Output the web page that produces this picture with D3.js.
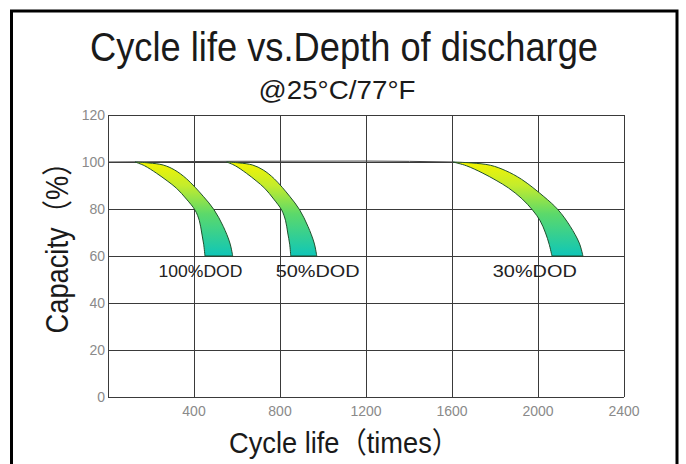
<!DOCTYPE html>
<html>
<head>
<meta charset="utf-8">
<script src="https://cdn.jsdelivr.net/npm/d3@7"></script>
<style>
  body { margin: 0; background: #fff; }
  svg { display: block; }
</style>
</head>
<body>
<div id="chart"></div>
<script>
// Axis ticks
var xTicks = [400, 800, 1200, 1600, 2000, 2400];
var yTicks = [0, 20, 40, 60, 80, 100, 120];

// Depth of discharge bands: [cycles, capacity %]
var dodNames = ["100%DOD", "50%DOD", "30%DOD"];
var dodLabelAt = [430, 975, 1985];

var inner100 = [[126,100],[170,98.4],[226,95.2],[275,92],[319,88.8],[365,84.2],[405,79.5],[425,75],[436,69.8],[445,65],[451,60]];
var outer100 = [[126,100],[190,99.6],[257,98.7],[310,96.6],[366,92.8],[443,85.4],[493,79.7],[536,72.6],[567,65.5],[580,60]];

var inner50 = [[552,100],[592,98.4],[644,95.2],[689,92],[729,88.8],[771,84.2],[808,79.5],[826,75],[836,69.8],[845,65],[850,60]];
var outer50 = [[552,100],[611,99.6],[673,98.7],[722,96.6],[774,92.8],[845,85.4],[891,79.7],[930,72.6],[959,65.5],[971,60]];

var inner30 = [[1605,100],[1667,98.4],[1740,95.4],[1805,92.2],[1862,89],[1925,84.4],[1975,79.5],[2010,75],[2035,69.8],[2052,65],[2065,60]];
var outer30 = [[1605,100],[1690,99.6],[1779,98.6],[1850,96.3],[1924,92.6],[2027,85.3],[2093,79.7],[2150,72.6],[2192,65.5],[2209,60]];

// thin reference line along 100%
var topLine = [[0,100],[600,100.3],[1200,100.4],[1605,100]];

var bands = [
    { inner: inner100, outer: outer100 },
    { inner: inner50, outer: outer50 },
    { inner: inner30, outer: outer30 }
];

var W = 686, H = 464;

var svg = d3.select("#chart").append("svg")
    .attr("width", W)
    .attr("height", H);

// outer frame
svg.append("rect")
    .attr("x", 11.5).attr("y", 11)
    .attr("width", 665.5).attr("height", 470)
    .attr("fill", "none")
    .attr("stroke", "#000")
    .attr("stroke-width", 3);

var x = d3.scaleLinear().domain([0, 2400]).range([108, 624]);
var y = d3.scaleLinear().domain([0, 120]).range([397, 115]);

// gradient for the bands
var defs = svg.append("defs");
var grad = defs.append("linearGradient")
    .attr("id", "bandGrad")
    .attr("gradientUnits", "userSpaceOnUse")
    .attr("x1", 0).attr("x2", 0)
    .attr("y1", y(100)).attr("y2", y(60));
grad.append("stop").attr("offset", "0%").attr("stop-color", "#f4f400");
grad.append("stop").attr("offset", "25%").attr("stop-color", "#c4ec2c");
grad.append("stop").attr("offset", "55%").attr("stop-color", "#5cd96a");
grad.append("stop").attr("offset", "100%").attr("stop-color", "#0fc6b8");

// grid
var grid = svg.append("g");
grid.selectAll(".vgrid")
    .data(xTicks)
    .enter().append("line")
    .attr("x1", function(d) { return Math.round(x(d)) + 0.5; })
    .attr("x2", function(d) { return Math.round(x(d)) + 0.5; })
    .attr("y1", y(0)).attr("y2", y(120))
    .attr("stroke", "#3a3a3a").attr("stroke-width", 1);

grid.selectAll(".hgrid")
    .data(yTicks)
    .enter().append("line")
    .attr("x1", x(0)).attr("x2", x(2400))
    .attr("y1", function(d) { return Math.round(y(d)) + 0.5; })
    .attr("y2", function(d) { return Math.round(y(d)) + 0.5; })
    .attr("stroke", "#3a3a3a").attr("stroke-width", 1);

grid.append("line")
    .attr("x1", Math.round(x(0)) + 0.5).attr("x2", Math.round(x(0)) + 0.5)
    .attr("y1", y(0)).attr("y2", y(120))
    .attr("stroke", "#3a3a3a").attr("stroke-width", 1);

// tick labels
svg.selectAll(".ylab")
    .data(yTicks)
    .enter().append("text")
    .attr("x", 105)
    .attr("y", function(d) { return y(d) + 5; })
    .attr("text-anchor", "end")
    .attr("font-family", "Liberation Sans, Arial, sans-serif")
    .attr("font-size", 14)
    .attr("fill", "#8a8a8a")
    .text(function(d) { return d; });

svg.selectAll(".xlab")
    .data(xTicks)
    .enter().append("text")
    .attr("x", function(d) { return x(d); })
    .attr("y", 416)
    .attr("text-anchor", "middle")
    .attr("font-family", "Liberation Sans, Arial, sans-serif")
    .attr("font-size", 14)
    .attr("fill", "#8a8a8a")
    .text(function(d) { return d; });

// thin line along 100%
var line = d3.line()
    .x(function(d) { return x(d[0]); })
    .y(function(d) { return y(d[1]); })
    .curve(d3.curveMonotoneX);

svg.append("path")
    .attr("d", line(topLine))
    .attr("fill", "none")
    .attr("stroke", "#444")
    .attr("stroke-width", 1);

// bands
var edge = d3.line()
    .x(function(d) { return x(d[0]); })
    .y(function(d) { return y(d[1]); })
    .curve(d3.curveCatmullRom.alpha(0.5));

bands.forEach(function(b) {
    var outerPath = edge(b.outer);
    var innerPath = edge(b.inner.slice().reverse());
    svg.append("path")
        .attr("d", outerPath + "L" + innerPath.slice(1) + "Z")
        .attr("fill", "url(#bandGrad)")
        .attr("stroke", "#1f4f2c")
        .attr("stroke-width", 1);
});

// band labels
svg.selectAll(".dod")
    .data(dodNames)
    .enter().append("text")
    .attr("x", function(d, i) { return x(dodLabelAt[i]); })
    .attr("y", y(51))
    .attr("text-anchor", "middle")
    .attr("font-family", "Liberation Sans, Arial, sans-serif")
    .attr("font-size", 17)
    .attr("textLength", 84)
    .attr("lengthAdjust", "spacingAndGlyphs")
    .attr("fill", "#222")
    .text(function(d) { return d; });

// titles
svg.append("text")
    .attr("x", 344).attr("y", 61)
    .attr("text-anchor", "middle")
    .attr("font-family", "Liberation Sans, Arial, sans-serif")
    .attr("font-size", 41)
    .attr("textLength", 508)
    .attr("lengthAdjust", "spacingAndGlyphs")
    .attr("fill", "#1a1a1a")
    .text("Cycle life vs.Depth of discharge");

svg.append("text")
    .attr("x", 337).attr("y", 99)
    .attr("text-anchor", "middle")
    .attr("font-family", "Liberation Sans, Arial, sans-serif")
    .attr("font-size", 25)
    .attr("textLength", 157)
    .attr("lengthAdjust", "spacingAndGlyphs")
    .attr("fill", "#1a1a1a")
    .text("@25°C/77°F");

// axis titles
svg.append("text")
    .attr("x", 344).attr("y", 453)
    .attr("text-anchor", "middle")
    .attr("font-family", "Liberation Sans, Arial, Noto Sans CJK SC, sans-serif")
    .attr("font-size", 29)
    .attr("textLength", 230)
    .attr("lengthAdjust", "spacingAndGlyphs")
    .attr("fill", "#1a1a1a")
    .text("Cycle life（times）");

svg.append("text")
    .attr("transform", "translate(68,241) rotate(-90)")
    .attr("text-anchor", "middle")
    .attr("font-family", "Liberation Sans, Arial, Noto Sans CJK SC, sans-serif")
    .attr("font-size", 31)
    .attr("textLength", 185)
    .attr("lengthAdjust", "spacingAndGlyphs")
    .attr("fill", "#1a1a1a")
    .text("Capacity（%）");
</script>
</body>
</html>
